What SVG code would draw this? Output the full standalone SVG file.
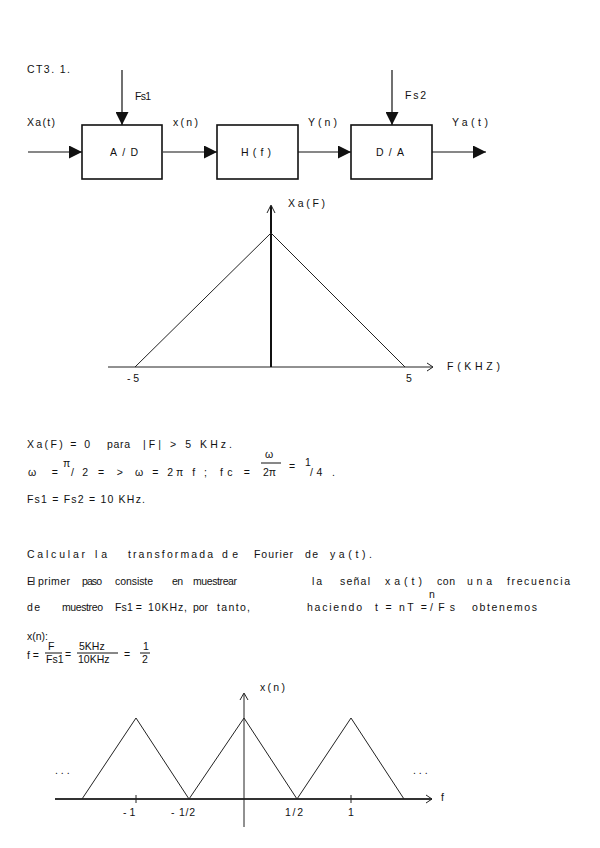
<svg xmlns="http://www.w3.org/2000/svg" width="600" height="848" viewBox="0 0 600 848">
<defs>
<style>
text{font-family:"Liberation Sans","DejaVu Sans",sans-serif;font-size:10.5px;fill:#111}
.box{fill:#fff;stroke:#111;stroke-width:1.6}
.ln{stroke:#111;stroke-width:1.2;fill:none}
.thin{stroke:#222;stroke-width:1;fill:none}
.c{text-anchor:middle}
</style>
<marker id="ah" markerUnits="userSpaceOnUse" markerWidth="14" markerHeight="13" refX="13" refY="6.5" orient="auto"><path d="M0,0 L13,6.5 L0,13 z" fill="#111"/></marker>
</defs>
<rect width="600" height="848" fill="#fff"/>

<text x="27" y="73" textLength="43" lengthAdjust="spacing">CT3. 1.</text>

<g id="connectors">
<line class="ln" x1="28" y1="152" x2="82" y2="152" marker-end="url(#ah)"/>
<line class="ln" x1="163" y1="152" x2="217" y2="152" marker-end="url(#ah)"/>
<line class="ln" x1="298" y1="152" x2="351" y2="152" marker-end="url(#ah)"/>
<line class="ln" x1="432" y1="152" x2="486" y2="152" stroke-width="2" marker-end="url(#ah)"/>
<line class="ln" x1="122" y1="70" x2="122" y2="125" marker-end="url(#ah)"/>
<line class="ln" x1="392" y1="70" x2="392" y2="125" marker-end="url(#ah)"/>
<text x="135" y="100" textLength="16" lengthAdjust="spacing">Fs1</text>
<text x="405" y="99" textLength="21" lengthAdjust="spacing">Fs2</text>
<text x="27" y="126" textLength="28" lengthAdjust="spacing">Xa(t)</text>
<text x="173" y="126" textLength="25" lengthAdjust="spacing">x(n)</text>
<text x="308" y="126" textLength="29" lengthAdjust="spacing">Y(n)</text>
<text x="452" y="126" textLength="36" lengthAdjust="spacing">Ya(t)</text>
</g>

<g id="ad"><rect class="box" x="82" y="125" width="80" height="54"/><text class="c" x="124" y="156" textLength="28" lengthAdjust="spacing">A/D</text></g>
<g id="h"><rect class="box" x="217" y="125" width="81" height="54"/><text class="c" x="256" y="156" textLength="30" lengthAdjust="spacing">H(f)</text></g>
<g id="da"><rect class="box" x="351" y="125" width="81" height="54"/><text class="c" x="390" y="156" textLength="28" lengthAdjust="spacing">D/A</text></g>

<!-- Graph 1 -->
<g id="graph1">
<line class="thin" x1="108" y1="367" x2="433" y2="367"/>
<polyline class="thin" points="427,363 433,367 427,371"/>
<line x1="271" y1="206" x2="271" y2="367" stroke="#111" stroke-width="2"/>
<polyline class="thin" points="267,213 271,205 275,213"/>
<polyline class="thin" points="135,367 271,233 405,367"/>
<text x="288" y="207" textLength="37" lengthAdjust="spacing">Xa(F)</text>
<text x="447" y="370" textLength="53" lengthAdjust="spacing">F(KHZ)</text>
<text x="127" y="382" textLength="12" lengthAdjust="spacing">- 5</text>
<text x="406" y="382">5</text>
</g>

<!-- Equations -->
<text x="27" y="448" textLength="63" lengthAdjust="spacing">Xa(F) = 0</text>
<text x="107" y="448" textLength="23" lengthAdjust="spacing">para</text>
<text x="143" y="448" textLength="89" lengthAdjust="spacing">|F| &gt; 5 KHz.</text>

<text x="28" y="476" textLength="30" lengthAdjust="spacing">ω  =</text>
<text x="63" y="467">π</text>
<text x="71" y="476" textLength="17" lengthAdjust="spacing">/2</text>
<text x="98" y="476" textLength="25" lengthAdjust="spacing">=&gt;</text>
<text x="135" y="476" textLength="72" lengthAdjust="spacing">ω = 2π f ;</text>
<text x="220" y="476" textLength="30" lengthAdjust="spacing">fc =</text>
<text x="265" y="458">ω</text>
<line x1="261" y1="463" x2="281" y2="463" stroke="#111" stroke-width="1"/>
<text x="263" y="476">2π</text>
<text x="289" y="470">=</text>
<text x="305" y="466">1</text>
<text x="310" y="476" textLength="25" lengthAdjust="spacing">/4 .</text>

<text x="27" y="503" textLength="118" lengthAdjust="spacing">Fs1 =  Fs2 =  10 KHz.</text>

<!-- paragraph -->
<text x="27" y="558" textLength="58" lengthAdjust="spacing">Calcular</text>
<text x="95" y="558" textLength="12" lengthAdjust="spacing">la</text>
<text x="128" y="558" textLength="85" lengthAdjust="spacing">transformada</text>
<text x="222" y="558" textLength="16" lengthAdjust="spacing">de</text>
<text x="254" y="558" textLength="39" lengthAdjust="spacing">Fourier</text>
<text x="305" y="558" textLength="13" lengthAdjust="spacing">de</text>
<text x="330" y="558" textLength="42" lengthAdjust="spacing">ya(t).</text>

<text x="27" y="585" textLength="8" lengthAdjust="spacing">El</text>
<text x="38" y="585" textLength="32" lengthAdjust="spacing">primer</text>
<text x="82" y="585" textLength="20" lengthAdjust="spacing">paso</text>
<text x="115" y="585" textLength="38" lengthAdjust="spacing">consiste</text>
<text x="172" y="585" textLength="11" lengthAdjust="spacing">en</text>
<text x="193" y="585" textLength="44" lengthAdjust="spacing">muestrear</text>
<text x="312" y="585" textLength="10" lengthAdjust="spacing">la</text>
<text x="340" y="585" textLength="30" lengthAdjust="spacing">señal</text>
<text x="385" y="585" textLength="37" lengthAdjust="spacing">xa(t)</text>
<text x="437" y="585" textLength="18" lengthAdjust="spacing">con</text>
<text x="467" y="585" textLength="25" lengthAdjust="spacing">una</text>
<text x="507" y="585" textLength="63" lengthAdjust="spacing">frecuencia</text>

<text x="27" y="611" textLength="13" lengthAdjust="spacing">de</text>
<text x="62" y="611" textLength="41" lengthAdjust="spacing">muestreo</text>
<text x="115" y="611" textLength="27" lengthAdjust="spacing">Fs1 =</text>
<text x="148" y="611" textLength="39" lengthAdjust="spacing">10KHz,</text>
<text x="193" y="611" textLength="15" lengthAdjust="spacing">por</text>
<text x="217" y="611" textLength="33" lengthAdjust="spacing">tanto,</text>
<text x="307" y="611" textLength="55" lengthAdjust="spacing">haciendo</text>
<text x="375" y="611" textLength="52" lengthAdjust="spacing">t = nT =</text>
<text x="429" y="598">n</text>
<text x="430" y="611" textLength="25" lengthAdjust="spacing">/Fs</text>
<text x="472" y="611" textLength="65" lengthAdjust="spacing">obtenemos</text>

<text x="27" y="640">x(n):</text>
<text x="27" y="659">f =</text>
<text x="48" y="650">F</text>
<line x1="45" y1="653" x2="62" y2="653" stroke="#111" stroke-width="1"/>
<text x="46" y="663">Fs1</text>
<text x="65" y="658">=</text>
<text x="79" y="650">5KHz</text>
<line x1="77" y1="653" x2="118" y2="653" stroke="#111" stroke-width="1"/>
<text x="78" y="663">10KHz</text>
<text x="124" y="658">=</text>
<text x="143" y="650">1</text>
<line x1="140" y1="653" x2="150" y2="653" stroke="#111" stroke-width="1"/>
<text x="142" y="663">2</text>

<!-- Graph 2 -->
<g id="graph2">
<line x1="55" y1="799" x2="432" y2="799" stroke="#333" stroke-width="2"/>
<polyline class="thin" points="426,795 432,799 426,803"/>
<line class="thin" x1="244" y1="694" x2="244" y2="827"/>
<polyline class="thin" points="240,700 244,693 248,700"/>
<polyline class="thin" points="82,799 136,718 189,799 244,718 297,799 351,718 404,799"/>
<line class="thin" x1="136" y1="795" x2="136" y2="803"/>
<line class="thin" x1="351" y1="795" x2="351" y2="803"/>
<text x="260" y="691" textLength="25" lengthAdjust="spacing">x(n)</text>
<text x="55" y="774">. . .</text>
<text x="413" y="774">. . .</text>
<text x="441" y="801">f</text>
<text x="123" y="816">- 1</text>
<text x="171" y="816" textLength="24" lengthAdjust="spacing">- 1/2</text>
<text x="285" y="816" textLength="18" lengthAdjust="spacing">1/2</text>
<text x="348" y="816">1</text>
</g>
</svg>
